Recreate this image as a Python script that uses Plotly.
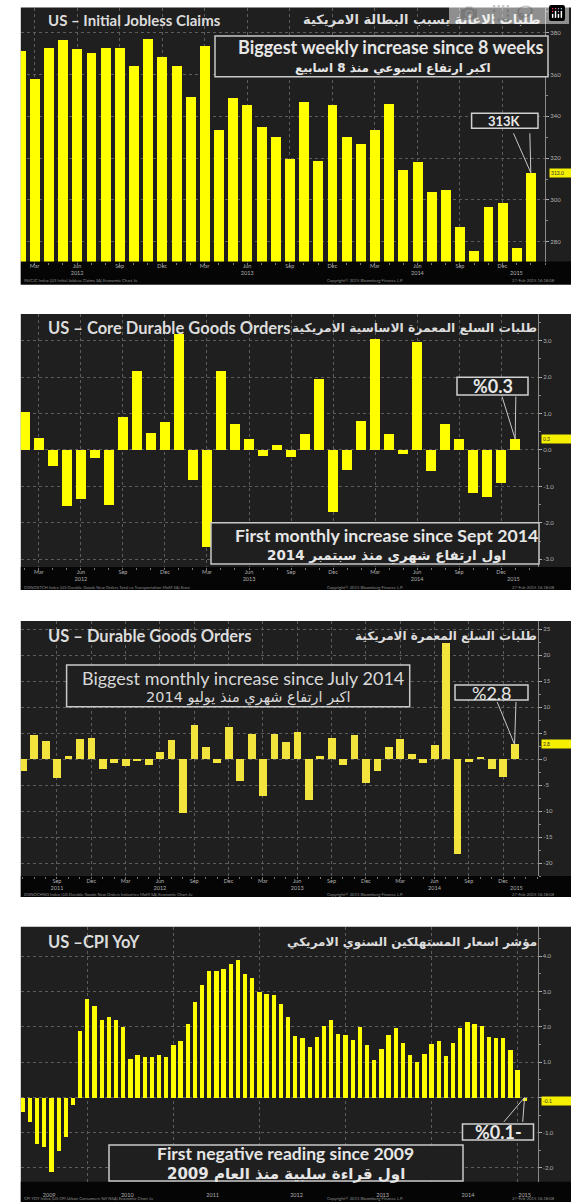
import plotly.graph_objects as go

W, H = 571, 1202

# ---------------- DATA ----------------
# Panel 1: US Initial Jobless Claims (K), monthly points Feb-2012 .. Feb-2015
claims_x = list(range(37))
claims = [371.5, 357.9, 372.9, 376.6, 372.3, 370.4, 372.9, 372.9, 364.3, 377.1,
          368.5, 364.3, 349.4, 373.9, 333.9, 348.8, 345.5, 335.0, 330.2, 319.9,
          347.0, 319.1, 345.5, 330.2, 327.1, 333.8, 346.3, 314.6, 318.2, 304.2,
          305.1, 287.5, 275.9, 297.1, 298.8, 277.2, 313.0]
claims_tickvals = [1, 4, 7, 10, 13, 16, 19, 22, 25, 28, 31, 34]
claims_ticktext = ["Mar", "Jun<br>2012", "Sep", "Dec", "Mar", "Jun<br>2013", "Sep", "Dec",
                   "Mar", "Jun<br>2014", "Sep", "Dec"]
claims_yticks = [280, 300, 320, 340, 360, 380]

# Panel 2: US Core Durable Goods Orders MoM %, Feb-2012 .. Jan-2015
core_x = list(range(36))
core = [1.05, 0.32, -0.44, -1.53, -1.35, -0.23, -1.5, 0.9, 2.17, 0.47,
        0.76, 3.17, -0.82, -2.65, 2.17, 0.71, 0.29, -0.16, 0.14, -0.2,
        0.43, 1.96, -1.69, -0.55, 0.8, 3.04, 0.43, -0.11, 2.97, -0.59,
        0.71, 0.29, -1.19, -1.3, -0.91, 0.3]
core_tickvals = claims_tickvals
core_ticktext = claims_ticktext
core_yticks = [-3, -2, -1, 0, 1, 2, 3]
core_yticktext = ["-3.0", "-2.0", "-1.0", "0.0", "1.0", "2.0", "3.0"]

# Panel 3: US Durable Goods Orders MoM %, Jun-2011 .. Jan-2015
dur_x = list(range(44))
dur = [-2.4, 4.6, 3.5, -3.7, 0.6, 3.8, 4.0, -2.0, -0.8, -1.3,
       -0.3, -1.15, 1.4, 3.65, -10.4, 6.5, 2.4, -0.8, 6.2, -4.2,
       4.8, -7.1, 4.8, 3.3, 5.25, -7.9, 0.5, 4.0, -1.15, 4.6,
       -4.7, -2.4, 2.4, 3.8, 1.0, -0.8, 2.7, 22.25, -18.3, -0.5,
       0.2, -2.0, -3.5, 2.8]
dur_tickvals = [3, 6, 9, 12, 15, 18, 21, 24, 27, 30, 33, 36, 39, 42]
dur_ticktext = ["Sep<br>2011", "Dec", "Mar", "Jun<br>2012", "Sep", "Dec", "Mar", "Jun<br>2013",
                "Sep", "Dec", "Mar", "Jun<br>2014", "Sep", "Dec"]
dur_yticks = [-20, -15, -10, -5, 0, 5, 10, 15, 20, 25]

# Panel 4: US CPI YoY %, Mar-2009 .. Jan-2015
cpi_x = list(range(71))
cpi = [-0.4, -0.7, -1.3, -1.4, -2.1, -1.5, -1.1, -0.2, 1.9, 2.8,
       2.6, 2.2, 2.3, 2.2, 2.0, 1.1, 1.2, 1.15, 1.15, 1.2,
       1.15, 1.5, 1.6, 2.1, 2.7, 3.2, 3.6, 3.6, 3.66, 3.8,
       3.9, 3.5, 3.4, 3.0, 2.95, 2.9, 2.67, 2.3, 1.74, 1.7,
       1.44, 1.72, 2.03, 2.2, 1.8, 1.79, 1.63, 2.0, 1.49, 1.08,
       1.37, 1.79, 1.99, 1.54, 1.2, 1.01, 1.23, 1.52, 1.61, 1.18,
       1.54, 1.99, 2.15, 2.1, 2.03, 1.72, 1.7, 1.7, 1.35, 0.78,
       -0.1]
cpi_year_pos = [3.7, 14.6, 26.5, 38.2, 50.2, 62.1, 70]
cpi_year_text = ["2009", "2010", "2011", "2012", "2013", "2014", "2015"]
cpi_grid = [9, 21, 33, 45, 57, 69]
cpi_yticks = [-2, -1, 0, 1, 2, 3, 4]
cpi_yticktext = ["-2.0", "-1.0", "", "1.0", "2.0", "3.0", "4.0"]

# ---------------- STYLE / LAYOUT HELPERS ----------------
DARK = "#1f1f1f"
STRIP = "#050505"
GRID = "#5c5c5c"
TXT = "#e6e6e6"
AX = "#b0b0b0"
YEL = "#ffff00"
LAT = "Lato, 'Open Sans', sans-serif"
AR = "'DejaVu Sans', sans-serif"
LEFT = 20.8


def px(v):
    return v / W


def py(v):
    return 1 - v / H


panels = [
    # top, plot bottom, panel bottom, plot right
    dict(top=7.5, pb=261.5, bot=284.5, right=545.0),
    dict(top=314.0, pb=567.0, bot=590.0, right=538.0),
    dict(top=621.0, pb=876.0, bot=897.0, right=538.0),
    dict(top=926.7, pb=1181.7, bot=1202.0, right=537.5),
]

fig = go.Figure()

bars = [
    (claims_x, claims, YEL, 0.7),
    (core_x, core, YEL, 0.72),
    (dur_x, dur, "#f2e43c", 0.68),
    (cpi_x, cpi, YEL, 0.6),
]
for i, (xs, ys, col, w) in enumerate(bars):
    sfx = "" if i == 0 else str(i + 1)
    fig.add_trace(go.Bar(x=xs, y=ys, marker=dict(color=col, line=dict(width=0)), width=w,
                         xaxis="x" + sfx, yaxis="y" + sfx, showlegend=False, hoverinfo="skip"))

xranges = [[0.03, 37.0], [-0.29, 36.63], [-0.16, 45.05], [-0.25, 71.8]]
yranges = [[270.6, 392.0], [-3.21, 3.73], [-22.5, 26.54], [-2.39, 4.84]]

layout = dict(width=W, height=H, margin=dict(l=0, r=0, t=0, b=0),
              paper_bgcolor="white", plot_bgcolor="rgba(0,0,0,0)",
              bargap=0, hovermode=False, showlegend=False)

xtick = [
    dict(tickvals=claims_tickvals, ticktext=claims_ticktext),
    dict(tickvals=core_tickvals, ticktext=core_ticktext),
    dict(tickvals=dur_tickvals, ticktext=dur_ticktext),
    dict(tickvals=cpi_year_pos, ticktext=cpi_year_text),
]
ytick = [
    dict(tickvals=claims_yticks, ticktext=[str(v) for v in claims_yticks], minor_d=10),
    dict(tickvals=core_yticks, ticktext=core_yticktext, minor_d=0.5),
    dict(tickvals=dur_yticks, ticktext=[str(v) for v in dur_yticks], minor_d=2.5),
    dict(tickvals=cpi_yticks, ticktext=cpi_yticktext, minor_d=0.5),
]

shapes = []
for i, p in enumerate(panels):
    sfx = "" if i == 0 else str(i + 1)
    xa = dict(domain=[px(LEFT), px(p["right"])], range=xranges[i], anchor="y" + sfx,
              showgrid=True, gridcolor=GRID, griddash="dot", gridwidth=1,
              zeroline=False, showline=False, ticks="",
              tickfont=dict(size=5.5, color=AX, family=LAT),
              tickvals=xtick[i]["tickvals"], ticktext=xtick[i]["ticktext"],
              fixedrange=True)
    if i == 3:
        xa["showgrid"] = False
        xa["ticklabelstandoff"] = 9
        xa["minor"] = dict(tickvals=cpi_grid, showgrid=True, gridcolor=GRID,
                           griddash="dot", gridwidth=1, ticks="")
    else:
        xa["minor"] = dict(dtick=1, ticks="outside", ticklen=2, tickcolor="#777", showgrid=False)
    ya = dict(domain=[py(p["pb"]), py(p["top"])], range=yranges[i], anchor="x" + sfx,
              side="right", showgrid=True, gridcolor=GRID, griddash="dot", gridwidth=1,
              zeroline=False, showline=True, linecolor="#8a8a8a", linewidth=1,
              ticks="outside", ticklen=3, tickcolor="#aaa",
              tickfont=dict(size=6, color=AX, family=LAT),
              tickvals=ytick[i]["tickvals"], ticktext=ytick[i]["ticktext"],
              minor=dict(dtick=ytick[i]["minor_d"], ticks="outside", ticklen=2,
                         tickcolor="#888", showgrid=False),
              fixedrange=True)
    layout["xaxis" + sfx] = xa
    layout["yaxis" + sfx] = ya
    # dark panel and black date strip
    shapes.append(dict(type="rect", xref="paper", yref="paper", layer="below",
                       x0=px(LEFT), x1=1, y0=py(p["bot"]), y1=py(p["top"]),
                       fillcolor=DARK, line=dict(width=0)))
    shapes.append(dict(type="rect", xref="paper", yref="paper", layer="below",
                       x0=px(LEFT), x1=1, y0=py(p["bot"]), y1=py(p["pb"]),
                       fillcolor=STRIP, line=dict(width=0)))

ann = []


def text_px(t, x, y, size, color=TXT, family=LAT, xanchor="center"):
    ann.append(dict(text=t, x=px(x), y=py(y), xref="paper", yref="paper",
                    xanchor=xanchor, yanchor="middle", showarrow=False,
                    font=dict(size=size, color=color, family=family)))


def box_px(x0, x1, y0, y1, color="#c9c9c9", width=1.5):
    shapes.append(dict(type="rect", xref="paper", yref="paper", layer="above",
                       x0=px(x0), x1=px(x1), y0=py(y1), y1=py(y0),
                       fillcolor=DARK, line=dict(color=color, width=width)))


# Titles
titles = [
    ("<b>US – Initial Jobless Claims</b>", "<b>طلبات الاعانة بسبب البطالة الامريكية</b>", 20, 543, 15, 13),
    ("<b>US – Core Durable Goods Orders</b>", "<b>طلبات السلع المعمرة الاساسية الامريكية</b>", 328, 539, 16.5, 12.3),
    ("<b>US – Durable Goods Orders</b>", "<b>طلبات السلع المعمرة الامريكية</b>", 636, 539, 16.5, 12),
    ("<b>US –CPI YoY</b>", "<b>مؤشر اسعار المستهلكين السنوي الامريكي</b>", 942, 539, 16.5, 12),
]
for en, ar, yy, xr, esz, asz in titles:
    text_px(en, 45.5, yy, esz, color="#dcdcdc", xanchor="left")
    text_px(ar, xr, yy, asz, color="#dcdcdc", family=AR, xanchor="right")

# Comment boxes
box_px(215, 548, 36, 76.7)
text_px("<b>Biggest weekly increase since 8 weeks</b>", 390.6, 46.7, 18)
text_px("<b>اكبر ارتفاع اسبوعي منذ 8 اسابيع</b>", 393, 68.5, 12, family=AR)

box_px(211, 539, 522.7, 564)
text_px("<b>First monthly increase since Sept 2014</b>", 386, 535, 17.7)
text_px("<b>اول ارتفاع شهري منذ سبتمبر 2014</b>", 386, 555, 13.5, family=AR)

box_px(66.6, 409.7, 665, 706.7)
text_px("Biggest monthly increase since July 2014", 243, 678, 18, color="#d8d8d8")
text_px("اكبر ارتفاع شهري منذ يوليو 2014", 247.7, 697.5, 14.5, color="#d8d8d8", family=AR)

box_px(109, 463, 1145, 1181)
text_px("<b>First negative reading since 2009</b>", 285.8, 1153.3, 17.5)
text_px("<b>اول قراءة سلبية منذ العام 2009</b>", 286, 1173.5, 15, family=AR)

# Callouts (box + V pointer anchored on the last bar)
callouts = [
    ("", claims_x[-1], claims[-1], (471.6, 538, 113.3, 128.3), "<b>313K</b>", 13, [(-18, -41), (-1, -41)]),
    ("2", core_x[-1], core[-1], (457, 528, 377.3, 395), "<b>%0.3</b>", 18, [(-13.6, -44), (0.7, -44)]),
    ("3", dur_x[-1], dur[-1], (455, 528, 685, 700), "%2.8", 18, [(-18, -44), (1.5, -44)]),
    ("4", cpi_x[-1], 0, (462.5, 533.5, 1124, 1140), "<b>%0.1-</b>", 18, [(-22, 26), (-2, 26)]),
]
for sfx, xv, yv, (bx0, bx1, by0, by1), t, fs, arms in callouts:
    box_px(bx0, bx1, by0, by1, color="#d0d0d0", width=1.5)
    text_px(t, (bx0 + bx1) / 2, (by0 + by1) / 2, fs, color="#e8e8e8")
    for dx, dy in arms:
        ann.append(dict(text="", x=xv, y=yv, xref="x" + sfx, yref="y" + sfx,
                        ax=dx, ay=dy, showarrow=True, arrowhead=0, arrowwidth=1,
                        arrowcolor="#c8c8c8", standoff=0))

# Yellow last-value tags on the value axis
tags = [
    ("", claims[-1], "313.0", 549),
    ("2", core[-1], "0.3", 541),
    ("3", dur[-1], "2.8", 541),
    ("4", cpi[-1], "-0.1", 541),
]
for sfx, yv, t, x0 in tags:
    ann.append(dict(text=t, x=px(x0), y=yv, xref="paper", yref="y" + sfx,
                    xanchor="left", yanchor="middle", showarrow=False,
                    bgcolor="#f5f000", borderpad=1, width=40, height=6, align="left",
                    font=dict(size=5, color="#333", family=LAT)))

# Year labels not sitting on a tick (2015)
year_extra = [("", 35.0, 2015, panels[0]), ("2", 34.9, 2015, panels[1]), ("3", 43.2, 2015, panels[2])]
for sfx, xv, yr, p in year_extra:
    ann.append(dict(text=str(yr), x=xv, y=py(p["pb"] + 11.5), xref="x" + sfx, yref="paper",
                    xanchor="center", yanchor="middle", showarrow=False,
                    font=dict(size=5.5, color=AX, family=LAT)))

# Footers
footers = [
    ("INJCJC Index (US Initial Jobless Claims SA) Economic Chart Ju", 280.7),
    ("DGNOXTCH Index (US Durable Goods New Orders Total ex Transportation MoM SA) Econ", 587.5),
    ("DGNOCHNG Index (US Durable Goods New Orders Industries MoM SA) Economic Chart Ju", 894.5),
    ("CPI YOY Index (US CPI Urban Consumers YoY NSA) Economic Chart Ju", 1198.5),
]
for t, yy in footers:
    text_px(t, 22, yy, 4.2, color="#8c8c8c", xanchor="left")
    text_px("Copyright© 2015 Bloomberg Finance L.P.", 365, yy, 4.2, color="#8c8c8c")
    text_px("27-Feb-2015 16:18:08", 510, yy, 4.2, color="#8c8c8c", xanchor="left")

layout["shapes"] = shapes
layout["annotations"] = ann
fig.update_layout(**layout)
fig.write_html("out.html",
               post_script="document.body.style.margin='0px';document.body.style.padding='0px';"
                           "document.body.style.overflow='hidden';")
